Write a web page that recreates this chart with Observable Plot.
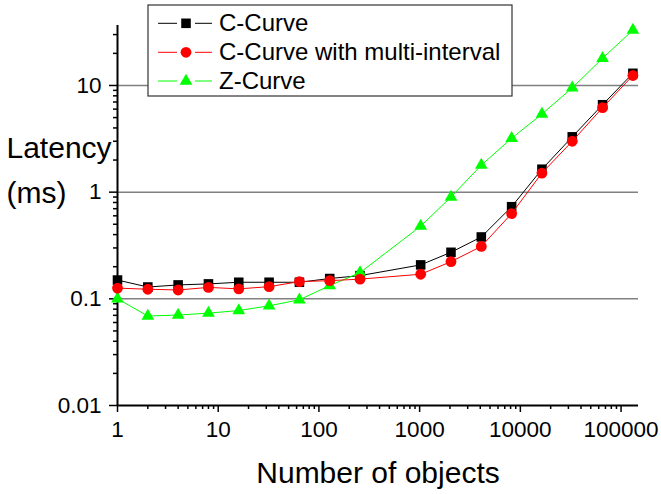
<!DOCTYPE html>
<html><head><meta charset="utf-8">
<script src="https://cdn.jsdelivr.net/npm/d3@7"></script>
<script src="https://cdn.jsdelivr.net/npm/@observablehq/plot@0.6"></script>
<style>
body{margin:0;background:#fff;}
#chart{position:relative;width:661px;height:494px;}
</style>
</head><body><div id="chart"></div>
<script>
// ---- data ----
const objects = [1, 2, 4, 8, 16, 32, 64, 128, 256, 1024, 2048, 4096, 8192, 16384, 32768, 65536, 131072];
const cCurve = [0.15, 0.129, 0.135, 0.138, 0.143, 0.143, 0.143, 0.155, 0.165, 0.208, 0.273, 0.38, 0.73, 1.64, 3.3, 6.6, 13];
const cCurveMulti = [0.126, 0.123, 0.121, 0.128, 0.124, 0.13, 0.145, 0.148, 0.153, 0.17, 0.223, 0.31, 0.63, 1.51, 3.0, 6.2, 12.4];
const zCurve = [0.1, 0.069, 0.0705, 0.0734, 0.0777, 0.086, 0.098, 0.133, 0.176, 0.48, 0.9, 1.79, 3.2, 5.4, 9.5, 18, 33];

const seriesNames = ["C-Curve", "C-Curve with multi-interval", "Z-Curve"];
const seriesColors = ["#000000", "#ff0000", "#00ff00"];
const seriesSymbols = ["square", "circle", "triangle"];
const seriesRadius = [5.4, 5.4, 4.7];
const seriesValues = [cCurve, cCurveMulti, zCurve];

const xMajorTicks = [1, 10, 100, 1000, 10000, 100000];
const yMajorTicks = [0.01, 0.1, 1, 10];
const yGridTicks = [0.1, 1, 10];
const xDomain = [1, 149000];
const yDomain = [0.01, 36.5];

const xLabel = "Number of objects";
const yLabel = "Latency\n(ms)";

// minor ticks (2..9 within each decade)
function minorTicks([lo, hi]) {
  const out = [];
  for (let e = Math.floor(Math.log10(lo)); e <= Math.ceil(Math.log10(hi)); e++) {
    for (let k = 2; k <= 9; k++) {
      const v = +(k * Math.pow(10, e)).toPrecision(6);
      if (v > lo && v < hi) out.push(v);
    }
  }
  return out;
}
const xMinorTicks = minorTicks(xDomain);
const yMinorTicks = minorTicks(yDomain);

const rows = seriesNames.map((name, i) =>
  objects.map((x, j) => ({series: name, x, y: seriesValues[i][j]})));

// drawing order: black, green, red
const order = [0, 2, 1];
const seriesMarks = order.flatMap(i => [
  Plot.line(rows[i], {x: "x", y: "y", stroke: seriesColors[i], strokeWidth: 1}),
  Plot.dot(rows[i], {x: "x", y: "y", symbol: seriesSymbols[i], r: seriesRadius[i], fill: seriesColors[i], stroke: "none"})
]);

const fontFamily = "'Liberation Sans', Arial, sans-serif";

const svg = Plot.plot({
  width: 661,
  height: 494,
  marginLeft: 117,
  marginRight: 23,
  marginTop: 25,
  marginBottom: 89,
  style: {fontFamily, background: "white", color: "black", overflow: "visible"},
  x: {type: "log", domain: xDomain},
  y: {type: "log", domain: yDomain},
  marks: [
    Plot.ruleY(yGridTicks, {stroke: "#808080", strokeWidth: 1.5}),
    Plot.axisY({ticks: yMinorTicks, tickSize: 4, tickFormat: () => "", label: null, strokeWidth: 1.5}),
    Plot.axisY({ticks: yMajorTicks, tickSize: 8, tickPadding: 8, fontSize: 22.5, tickFormat: d => String(d), label: null, strokeWidth: 1.5}),
    Plot.axisX({ticks: xMinorTicks, tickSize: 4, tickFormat: () => "", label: null, strokeWidth: 1.5}),
    Plot.axisX({ticks: xMajorTicks, tickSize: 7, tickPadding: 9, fontSize: 22.5, tickFormat: d => String(d), label: null, strokeWidth: 1.5}),
    Plot.ruleX([xDomain[0]], {stroke: "black", strokeWidth: 2}),
    Plot.ruleY([yDomain[0]], {stroke: "black", strokeWidth: 2}),
    ...seriesMarks,
    Plot.text([yLabel], {text: d => d, frameAnchor: "top-left", dx: -111, dy: 177, textAnchor: "start", lineAnchor: "bottom", lineHeight: 1.5, fontSize: 30, fill: "black"}),
    Plot.text([xLabel], {text: d => d, frameAnchor: "bottom", dy: 77, lineAnchor: "bottom", fontSize: 30, fill: "black"})
  ]
});

// ---- legend ----
const lg = d3.select(svg).append("g").attr("font-family", fontFamily).attr("text-anchor", "start");
lg.append("rect").attr("x", 148).attr("y", 5).attr("width", 364).attr("height", 91)
  .attr("fill", "white").attr("stroke", "#333").attr("stroke-width", 1.2);
const rowY = [23.3, 52.3, 81];
seriesNames.forEach((name, i) => {
  const g = lg.append("g").attr("transform", `translate(0,${rowY[i]})`);
  g.append("line").attr("x1", 158).attr("x2", 177).attr("y1", 0).attr("y2", 0)
    .attr("stroke", seriesColors[i]).attr("stroke-width", 1);
  g.append("line").attr("x1", 195).attr("x2", 212).attr("y1", 0).attr("y2", 0)
    .attr("stroke", seriesColors[i]).attr("stroke-width", 1);
  const sym = {square: d3.symbolSquare, circle: d3.symbolCircle, triangle: d3.symbolTriangle}[seriesSymbols[i]];
  g.append("path").attr("transform", "translate(186,0)")
    .attr("d", d3.symbol(sym, seriesRadius[i] * seriesRadius[i] * Math.PI)())
    .attr("fill", seriesColors[i]);
  g.append("text").attr("x", 219).attr("y", 0).attr("dy", "0.33em")
    .attr("text-anchor", "start")
    .attr("font-size", 24).attr("fill", "black").text(name);
});

document.getElementById("chart").appendChild(svg);
</script>
</body></html>
